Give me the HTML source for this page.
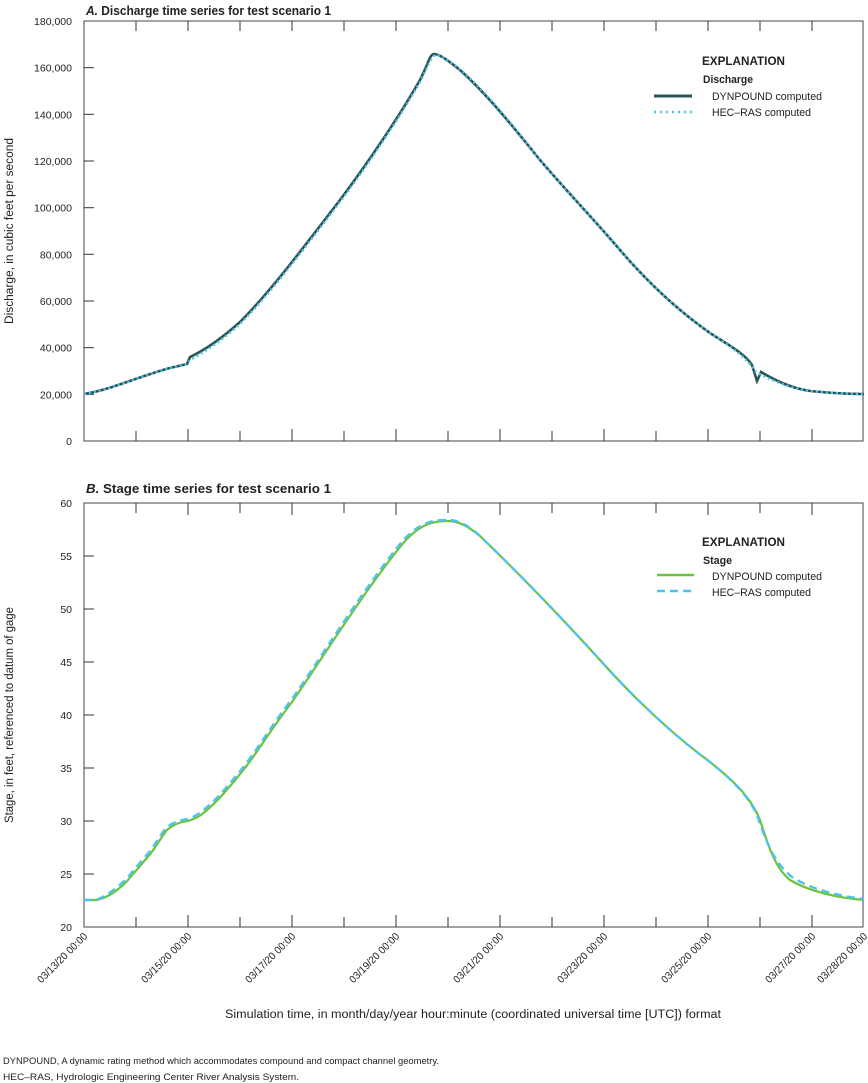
<!DOCTYPE html>
<html><head><meta charset="utf-8"><style>
body{margin:0;background:#fff;}
svg{display:block;font-family:"Liberation Sans",sans-serif;}
</style></head><body>
<svg width="868" height="1083" viewBox="0 0 868 1083" xmlns="http://www.w3.org/2000/svg">
<g font-size="11" fill="#222">
<!-- Panel A -->
<text x="86" y="15" font-size="12.5" font-weight="bold" textLength="245" lengthAdjust="spacingAndGlyphs"><tspan font-style="italic">A.</tspan> Discharge time series for test scenario 1</text>
<rect x="84" y="21" width="779" height="420" fill="none" stroke="#444" stroke-width="1"/>
<g stroke="#333" stroke-width="1">
<line x1="136" y1="21" x2="136" y2="31"/><line x1="188" y1="21" x2="188" y2="31"/><line x1="240" y1="21" x2="240" y2="31"/><line x1="292" y1="21" x2="292" y2="31"/><line x1="344" y1="21" x2="344" y2="31"/><line x1="396" y1="21" x2="396" y2="31"/><line x1="448" y1="21" x2="448" y2="31"/><line x1="500" y1="21" x2="500" y2="31"/><line x1="552" y1="21" x2="552" y2="31"/><line x1="604" y1="21" x2="604" y2="31"/><line x1="656" y1="21" x2="656" y2="31"/><line x1="708" y1="21" x2="708" y2="31"/><line x1="760" y1="21" x2="760" y2="31"/><line x1="812" y1="21" x2="812" y2="31"/>
<line x1="136" y1="441" x2="136" y2="431"/><line x1="188" y1="441" x2="188" y2="429"/><line x1="240" y1="441" x2="240" y2="431"/><line x1="292" y1="441" x2="292" y2="429"/><line x1="344" y1="441" x2="344" y2="431"/><line x1="396" y1="441" x2="396" y2="429"/><line x1="448" y1="441" x2="448" y2="431"/><line x1="500" y1="441" x2="500" y2="429"/><line x1="552" y1="441" x2="552" y2="431"/><line x1="604" y1="441" x2="604" y2="429"/><line x1="656" y1="441" x2="656" y2="431"/><line x1="708" y1="441" x2="708" y2="429"/><line x1="760" y1="441" x2="760" y2="431"/><line x1="812" y1="441" x2="812" y2="429"/>
<line x1="84" y1="67.7" x2="94" y2="67.7"/><line x1="84" y1="114.3" x2="94" y2="114.3"/><line x1="84" y1="161" x2="94" y2="161"/><line x1="84" y1="207.7" x2="94" y2="207.7"/><line x1="84" y1="254.3" x2="94" y2="254.3"/><line x1="84" y1="301" x2="94" y2="301"/><line x1="84" y1="347.7" x2="94" y2="347.7"/><line x1="84" y1="394.3" x2="94" y2="394.3"/>
</g>
<g text-anchor="end" font-size="10.5">
<text x="72" y="25">180,000</text><text x="72" y="71.7">160,000</text><text x="72" y="118.3">140,000</text><text x="72" y="165">120,000</text><text x="72" y="211.7">100,000</text><text x="72" y="258.3">80,000</text><text x="72" y="305">60,000</text><text x="72" y="351.7">40,000</text><text x="72" y="398.3">20,000</text><text x="72" y="445">0</text>
</g>
<text transform="translate(13,231) rotate(-90)" text-anchor="middle" font-size="11.5" textLength="186" lengthAdjust="spacingAndGlyphs">Discharge, in cubic feet per second</text>
<path d="M84,394 C110,390 140,376 170,368 L187,364 L190,357 C205,350 220,340 240,322 C270,292 300,252 340,200 C370,160 400,115 420,80 C428,64 430,54 434,54 C440,54 450,62 460,70 C480,88 500,110 540,160 C570,195 590,215 620,250 C650,285 680,312 710,333 C730,346 745,354 752,365 L757,381 L761,372 C775,380 790,388 810,391 C830,393 850,394 864,394" fill="none" stroke="#2a5552" stroke-width="2.6"/>
<path d="M84,394 C110,390 140,376 170,368 L187,364 L190,360 C205,352 220,342 240,324 C270,294 300,254 340,202 C370,162 400,117 420,82 C428,66 432,55 436,55 C442,55 452,63 462,71 C482,89 502,111 540,160 C570,195 590,215 620,250 C650,285 680,312 710,333 C730,346 745,356 756,372 C770,380 790,388 810,391 C830,393 850,394 864,394" fill="none" stroke="#4fc3f0" stroke-width="2.4" stroke-dasharray="2,3"/>
<text x="702" y="65" font-size="12" font-weight="bold" textLength="83" lengthAdjust="spacingAndGlyphs">EXPLANATION</text>
<text x="703" y="83" font-size="11" font-weight="bold" textLength="50" lengthAdjust="spacingAndGlyphs">Discharge</text>
<line x1="654" y1="96" x2="692" y2="96" stroke="#2a5552" stroke-width="3"/>
<text x="712" y="100" textLength="110" lengthAdjust="spacingAndGlyphs">DYNPOUND computed</text>
<line x1="654" y1="112" x2="692" y2="112" stroke="#4fc3f0" stroke-width="2.4" stroke-dasharray="2,4"/>
<text x="712" y="116" textLength="99" lengthAdjust="spacingAndGlyphs">HEC–RAS computed</text>

<!-- Panel B -->
<text x="86" y="493" font-size="12.5" font-weight="bold" textLength="245" lengthAdjust="spacingAndGlyphs"><tspan font-style="italic">B.</tspan> Stage time series for test scenario 1</text>
<rect x="84" y="503" width="779" height="424" fill="none" stroke="#444" stroke-width="1"/>
<g stroke="#333" stroke-width="1">
<line x1="136" y1="503" x2="136" y2="513"/><line x1="188" y1="503" x2="188" y2="515"/><line x1="240" y1="503" x2="240" y2="513"/><line x1="292" y1="503" x2="292" y2="515"/><line x1="344" y1="503" x2="344" y2="513"/><line x1="396" y1="503" x2="396" y2="515"/><line x1="448" y1="503" x2="448" y2="513"/><line x1="500" y1="503" x2="500" y2="515"/><line x1="552" y1="503" x2="552" y2="513"/><line x1="604" y1="503" x2="604" y2="515"/><line x1="656" y1="503" x2="656" y2="513"/><line x1="708" y1="503" x2="708" y2="515"/><line x1="760" y1="503" x2="760" y2="513"/><line x1="812" y1="503" x2="812" y2="515"/>
<line x1="136" y1="927" x2="136" y2="917"/><line x1="188" y1="927" x2="188" y2="915"/><line x1="240" y1="927" x2="240" y2="917"/><line x1="292" y1="927" x2="292" y2="915"/><line x1="344" y1="927" x2="344" y2="917"/><line x1="396" y1="927" x2="396" y2="915"/><line x1="448" y1="927" x2="448" y2="917"/><line x1="500" y1="927" x2="500" y2="915"/><line x1="552" y1="927" x2="552" y2="917"/><line x1="604" y1="927" x2="604" y2="915"/><line x1="656" y1="927" x2="656" y2="917"/><line x1="708" y1="927" x2="708" y2="915"/><line x1="760" y1="927" x2="760" y2="917"/><line x1="812" y1="927" x2="812" y2="915"/>
<line x1="84" y1="556" x2="94" y2="556"/><line x1="84" y1="609" x2="94" y2="609"/><line x1="84" y1="662" x2="94" y2="662"/><line x1="84" y1="715" x2="94" y2="715"/><line x1="84" y1="768" x2="94" y2="768"/><line x1="84" y1="821" x2="94" y2="821"/><line x1="84" y1="874" x2="94" y2="874"/>
</g>
<g text-anchor="end" font-size="10.5">
<text x="72" y="507">60</text><text x="72" y="560">55</text><text x="72" y="613">50</text><text x="72" y="666">45</text><text x="72" y="719">40</text><text x="72" y="772">35</text><text x="72" y="825">30</text><text x="72" y="878">25</text><text x="72" y="931">20</text>
</g>
<text transform="translate(13,715) rotate(-90)" text-anchor="middle" font-size="11.5" textLength="216" lengthAdjust="spacingAndGlyphs">Stage, in feet, referenced to datum of gage</text>
<path d="M84,900 L97,900 C105,898 112,894 117,890 C125,884 130,878 134,873 C140,866 146,859 151,853 C157,845 162,836 167,830 C175,823 182,822 188,821 C194,819 198,817 201,815 C210,808 217,801 224,793 C233,783 242,772 251,760 C265,740 278,720 292,702 C320,662 360,597 400,547 C420,522 435,521 448,521 C460,521 470,528 480,536 C510,565 550,605 600,660 C640,705 680,740 710,762 C730,778 750,795 760,820 C768,845 775,868 790,880 C810,892 840,898 864,900" fill="none" stroke="#6cc33a" stroke-width="2.2"/>
<path d="M84,900 L96,900 C104,897 111,892 116,888 C124,882 129,876 133,871 C139,864 145,857 150,851 C156,843 161,834 166,828 C174,821 182,820 188,819 C194,817 198,814 201,812 C210,805 217,798 224,790 C233,780 242,769 251,757 C265,737 278,717 292,699 C320,659 360,594 400,544 C420,520 435,520 448,520 C460,520 470,527 480,536 C510,565 550,605 600,660 C640,705 680,740 710,762 C730,778 748,795 757,815 C766,842 775,864 792,877 C812,890 840,896 864,899" fill="none" stroke="#4fc3f0" stroke-width="2.4" stroke-dasharray="8,5"/>
<text x="702" y="546" font-size="12" font-weight="bold" textLength="83" lengthAdjust="spacingAndGlyphs">EXPLANATION</text>
<text x="703" y="564" font-size="11" font-weight="bold" textLength="29" lengthAdjust="spacingAndGlyphs">Stage</text>
<line x1="657" y1="575" x2="694" y2="575" stroke="#6cc33a" stroke-width="2.4"/>
<text x="712" y="580" textLength="110" lengthAdjust="spacingAndGlyphs">DYNPOUND computed</text>
<line x1="657" y1="591" x2="694" y2="591" stroke="#4fc3f0" stroke-width="2.4" stroke-dasharray="8,5"/>
<text x="712" y="596" textLength="99" lengthAdjust="spacingAndGlyphs">HEC–RAS computed</text>

<!-- x labels -->
<g text-anchor="end" font-size="10.5">
<text transform="translate(88,937) rotate(-45)" textLength="66" lengthAdjust="spacingAndGlyphs">03/13/20 00:00</text>
<text transform="translate(192,937) rotate(-45)" textLength="66" lengthAdjust="spacingAndGlyphs">03/15/20 00:00</text>
<text transform="translate(296,937) rotate(-45)" textLength="66" lengthAdjust="spacingAndGlyphs">03/17/20 00:00</text>
<text transform="translate(400,937) rotate(-45)" textLength="66" lengthAdjust="spacingAndGlyphs">03/19/20 00:00</text>
<text transform="translate(504,937) rotate(-45)" textLength="66" lengthAdjust="spacingAndGlyphs">03/21/20 00:00</text>
<text transform="translate(608,937) rotate(-45)" textLength="66" lengthAdjust="spacingAndGlyphs">03/23/20 00:00</text>
<text transform="translate(712,937) rotate(-45)" textLength="66" lengthAdjust="spacingAndGlyphs">03/25/20 00:00</text>
<text transform="translate(816,937) rotate(-45)" textLength="66" lengthAdjust="spacingAndGlyphs">03/27/20 00:00</text>
<text transform="translate(868,937) rotate(-45)" textLength="66" lengthAdjust="spacingAndGlyphs">03/28/20 00:00</text>
</g>
<text x="473" y="1018" text-anchor="middle" font-size="11.5" textLength="496" lengthAdjust="spacingAndGlyphs">Simulation time, in month/day/year hour:minute (coordinated universal time [UTC]) format</text>
<text x="3" y="1064" font-size="9.5" textLength="436" lengthAdjust="spacingAndGlyphs">DYNPOUND, A dynamic rating method which accommodates compound and compact channel geometry.</text>
<text x="3" y="1080" font-size="9.5" textLength="296" lengthAdjust="spacingAndGlyphs">HEC–RAS, Hydrologic Engineering Center River Analysis System.</text>
</g>
</svg>
</body></html>
